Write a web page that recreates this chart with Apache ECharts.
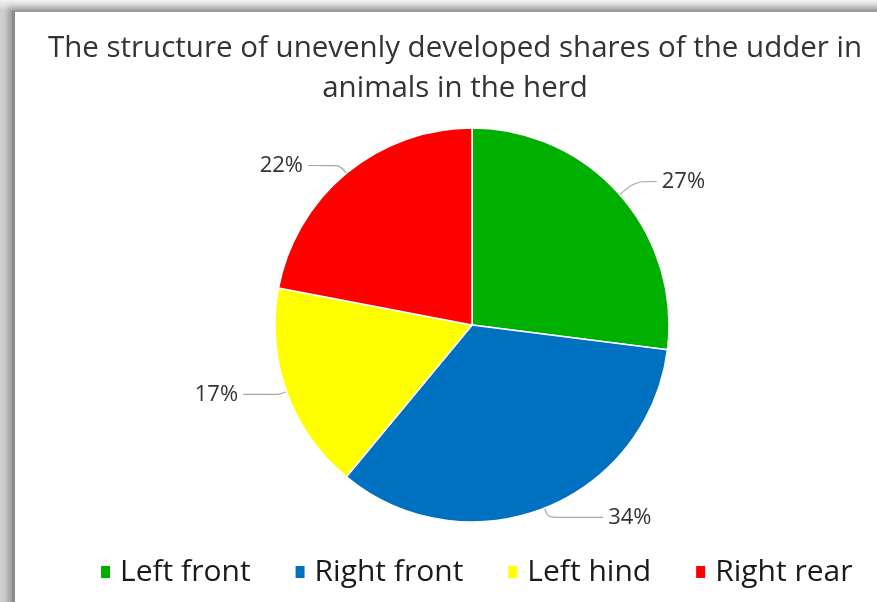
<!DOCTYPE html>
<html>
<head>
<meta charset="utf-8">
<script src="https://cdn.jsdelivr.net/npm/echarts@6/dist/echarts.min.js"></script>
<style>
  html, body { margin: 0; padding: 0; }
  body { width: 877px; height: 602px; background: linear-gradient(#f2f2f2, #cfcfcf 11px, #cfcfcf); position: relative; overflow: hidden; }
  #frame { position: absolute; left: 12px; top: 10px; width: 900px; height: 620px; background: #fff;
           border-left: 3px solid #8c8c8c; border-top: 2px solid #9a9a9a; box-shadow: -4px -3px 6px rgba(0,0,0,0.25); }
  #main { position: absolute; left: 0; top: 0; width: 877px; height: 602px; }
</style>
</head>
<body>
<div id="frame"></div>
<div id="main"></div>
<script>
  // 各部分占比
  const categories = ['Left front', 'Right front', 'Left hind', 'Right rear']
  const values = [27, 34, 17, 22]
  const colors = ['#00b000', '#0070c0', '#ffff00', '#ff0000']
  const lineLengths = [[20, 22], [10, 55], [8, 36], [10, 32]]

  let chart = echarts.init(document.getElementById('main'))
  let option = {
    backgroundColor: 'transparent',
    title: {
      text: 'The structure of unevenly developed shares of the udder in\nanimals in the herd',
      left: 450,
      textAlign: 'center',
      top: 24,
      textStyle: {
        fontFamily: 'Open Sans',
        fontSize: 29.5,
        fontWeight: 'normal',
        color: '#333333',
        lineHeight: 40
      }
    },
    legend: {
      bottom: 10,
      left: 94,
      itemWidth: 11,
      itemHeight: 14,
      itemGap: 43,
      icon: 'rect',
      textStyle: { fontFamily: 'Open Sans', fontSize: 30, color: '#1a1a1a', padding: [0, 0, 0, 4] },
      data: categories
    },
    series: [
      {
        type: 'pie',
        center: [472, 325],
        radius: 197,
        startAngle: 90,
        clockwise: true,
        avoidLabelOverlap: false,
        itemStyle: { borderColor: '#fff', borderWidth: 1.5 },
        label: {
          formatter: '{d}%',
          fontFamily: 'Open Sans',
          fontSize: 22,
          color: '#333333'
        },
        labelLine: { smooth: 0.3, lineStyle: { color: '#a6a6a6', width: 1.2 } },
        data: categories.map((name, i) => ({
          name: name,
          value: values[i],
          itemStyle: { color: colors[i] },
          labelLine: { length: lineLengths[i][0], length2: lineLengths[i][1] }
        }))
      }
    ]
  }
  chart.setOption(option)
</script>
</body>
</html>
